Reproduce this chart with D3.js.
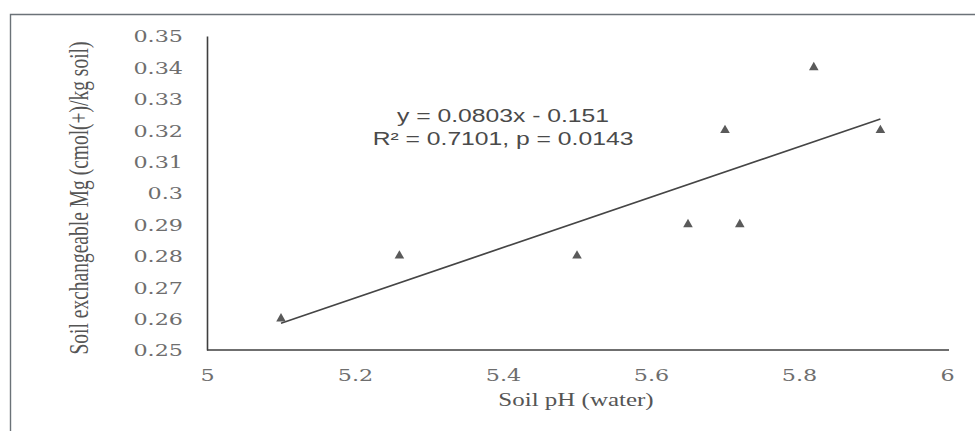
<!DOCTYPE html>
<html>
<head>
<meta charset="utf-8">
<script src="https://cdn.jsdelivr.net/npm/d3@7"></script>
<style>
  html, body { margin: 0; padding: 0; background: #fff; }
  svg { display: block; }
</style>
</head>
<body>
<svg id="chart" width="975" height="431"></svg>
<script>
// Soil pH (water) vs exchangeable Mg, with a linear trend
const phValues = [5.1, 5.26, 5.5, 5.65, 5.72, 5.7, 5.82, 5.91];
const mgValues = [0.26, 0.28, 0.28, 0.29, 0.29, 0.32, 0.34, 0.32];

const xTickValues = [5, 5.2, 5.4, 5.6, 5.8, 6];
const xTickLabels = ["5", "5.2", "5.4", "5.6", "5.8", "6"];
const yTickValues = [0.25, 0.26, 0.27, 0.28, 0.29, 0.30, 0.31, 0.32, 0.33, 0.34, 0.35];
const yTickLabels = ["0.25", "0.26", "0.27", "0.28", "0.29", "0.3", "0.31", "0.32", "0.33", "0.34", "0.35"];

const trendSlope = 0.0803;
const trendIntercept = -0.151;
const equationLines = ["y = 0.0803x - 0.151", "R\u00B2 = 0.7101, p = 0.0143"];

const xTitle = "Soil pH (water)";
const yTitle = "Soil exchangeable Mg (cmol(+)/kg soil)";

// text is drawn horizontally widened
const SX = 1.35;

const svg = d3.select("#chart");

const x = d3.scaleLinear().domain([5, 6]).range([207, 947]);
const y = d3.scaleLinear().domain([0.25, 0.35]).range([350, 36]);

// outer frame (top and left edges)
svg.append("path")
  .attr("d", "M10.5,431 L10.5,14.5 L975,14.5")
  .attr("fill", "none")
  .attr("stroke", "#6b7278")
  .attr("stroke-width", 1.4);

// y axis
const yAxis = d3.axisLeft(y)
  .tickValues(yTickValues)
  .tickFormat((d, i) => yTickLabels[i])
  .tickSize(0)
  .tickSizeOuter(0);

const gy = svg.append("g").attr("transform", `translate(${x(5)},0)`).call(yAxis);
gy.select(".domain").attr("stroke", "#3f3f3f").attr("stroke-width", 1.6);
gy.selectAll(".tick text")
  .attr("x", -24 / SX)
  .attr("dy", "0.36em")
  .attr("transform", `scale(${SX},1)`)
  .attr("text-anchor", "end")
  .attr("font-family", "DejaVu Serif")
  .attr("font-size", 16.5)
  .attr("fill", "#6e6e6e");

// x axis
const xAxis = d3.axisBottom(x)
  .tickValues(xTickValues)
  .tickFormat((d, i) => xTickLabels[i])
  .tickSize(0)
  .tickSizeOuter(0);

const gx = svg.append("g").attr("transform", `translate(0,${y(0.25)})`).call(xAxis);
gx.select(".domain").attr("stroke", "#3f3f3f").attr("stroke-width", 1.6)
  .attr("d", `M${x(5)},0H${x(6) + 2}`);
gx.selectAll(".tick text")
  .attr("y", 31)
  .attr("dy", 0)
  .attr("transform", `scale(${SX},1)`)
  .attr("font-family", "DejaVu Serif")
  .attr("font-size", 16.5)
  .attr("fill", "#6e6e6e");
gy.attr("font-family", null);
gx.attr("font-family", null);

// axis titles
svg.append("text")
  .attr("transform", `translate(576,406) scale(${SX},1)`)
  .attr("text-anchor", "middle")
  .attr("font-family", "Liberation Serif")
  .attr("font-size", 18.5)
  .attr("fill", "#555")
  .text(xTitle);

svg.append("text")
  .attr("transform", `translate(88,198) scale(${SX},1) rotate(-90)`)
  .attr("text-anchor", "middle")
  .attr("font-family", "Liberation Serif")
  .attr("font-size", 19.5)
  .attr("fill", "#555")
  .text(yTitle);

// trend line over the observed pH range
const xMin = d3.min(phValues), xMax = d3.max(phValues);
svg.append("line")
  .attr("x1", x(xMin)).attr("y1", y(trendSlope * xMin + trendIntercept))
  .attr("x2", x(xMax)).attr("y2", y(trendSlope * xMax + trendIntercept))
  .attr("stroke", "#454545")
  .attr("stroke-width", 1.7);

// data points
const tri = d3.symbol().type(d3.symbolTriangle).size(40);
svg.append("g").selectAll("path")
  .data(phValues.map((v, i) => [v, mgValues[i]]))
  .join("path")
  .attr("d", tri)
  .attr("transform", d => `translate(${x(d[0])},${y(d[1])})`)
  .attr("fill", "#5a5a5a");

// regression equation
svg.append("g").selectAll("text")
  .data(equationLines)
  .join("text")
  .attr("transform", (d, i) => `translate(503,${122 + i * 23}) scale(${SX},1)`)
  .attr("text-anchor", "middle")
  .attr("font-family", "Liberation Sans")
  .attr("font-size", 18.3)
  .attr("fill", "#4a4a4a")
  .text(d => d);
</script>
</body>
</html>
